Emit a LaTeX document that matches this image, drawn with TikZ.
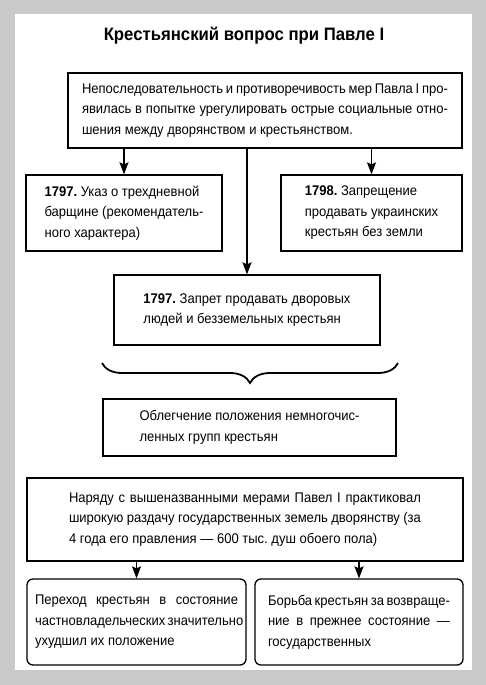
\documentclass[tikz,border=0pt]{standalone}
\usepackage{fontspec}
\setmainfont[FakeStretch=0.93]{Liberation Sans}
\usetikzlibrary{arrows.meta,decorations.pathreplacing}
\newcommand\fullline[1]{\leavevmode\hbox to\hsize{#1}\par}

\begin{document}
\begin{tikzpicture}[x=1pt,y=1pt,
  box/.style={draw, line width=1.3pt, inner ysep=0pt, align=justify,
    font=\fontsize{14}{20.5}\selectfont\frenchspacing},
  lbox/.style={box, align=left},
  rbox/.style={box, rounded corners=6pt},
  arr/.style={-{Stealth[length=12pt,width=9pt,inset=2pt]}, line width=1.3pt}]

%page
\fill[black!21] (0,0) rectangle (486,-685);
\fill[white] (15,-14) rectangle (472,-670);
\useasboundingbox (0,0) rectangle (486,-685);

%title
\node (title) at (244,-36) {\fontsize{18}{20}\selectfont\bfseries Крестьянский вопрос при Павле I};

%top box
\node[box, text width=366pt, inner xsep=14pt, minimum height=75pt] (reason) at (265,-110.5)
  {\fullline{Непоследовательность и противоречивость мер Павла I про-}%
   \fullline{явилась в попытке урегулировать острые социальные отно-}%
   шения между дворянством и крестьянством.};

%three measures
\node[lbox, minimum width=196pt, minimum height=76pt] (ukaz) at (124,-213)
  {\textbf{1797.} Указ о трехдневной\\ барщине (рекомендатель-\\ ного характера)};
\node[lbox, minimum width=181pt, minimum height=76pt] (ban1798) at (371.5,-213)
  {\textbf{1798.} Запрещение\\ продавать украинских\\ крестьян без земли};
\node[lbox, minimum width=266pt, minimum height=70pt] (ban1797) at (247,-310)
  {\textbf{1797.} Запрет продавать дворовых\\ людей и безземельных крестьян};

\draw[arr] (reason.south -| ukaz.north) -- (ukaz.north);
\draw[arr] (reason.south -| ban1797.north) -- (ban1797.north);
\draw[arr] (reason.south -| ban1798.north) -- (ban1798.north);

%brace
\coordinate (braceL) at (102,-363);
\coordinate (braceR) at (398,-363);
\draw[decorate, decoration={brace, amplitude=20pt, mirror}, line width=1.8pt] (braceL) -- (braceR);

%result
\node[lbox, minimum width=293pt, minimum height=57pt] (relief) at (249.5,-427.5)
  {Облегчение положения немногочис-\\ ленных групп крестьян};

%land grants
\node[box, text width=352pt, inner xsep=42pt, minimum height=83pt] (grants) at (245,-519.5)
  {\fullline{Наряду с вышеназванными мерами Павел I практиковал}%
   \fullline{широкую раздачу государственных земель дворянству (за}%
   4 года его правления — 600 тыс. душ обоего пола)};

%consequences
\node[rbox, text width=203pt, inner xsep=8pt, minimum height=86pt] (transfer) at (136.5,-622)
  {\fullline{Переход крестьян в состояние}%
   \fullline{частновладельческих значительно}%
   ухудшил их положение};
\node[rbox, text width=182pt, inner xsep=13pt, minimum height=86pt] (struggle) at (359,-622)
  {\fullline{Борьба крестьян за возвраще-}%
   \fullline{ние в прежнее состояние —}%
   государственных};

\draw[arr] (grants.south -| transfer.north) -- (transfer.north);
\draw[arr] (grants.south -| struggle.north) -- (struggle.north);
\end{tikzpicture}
\end{document}
